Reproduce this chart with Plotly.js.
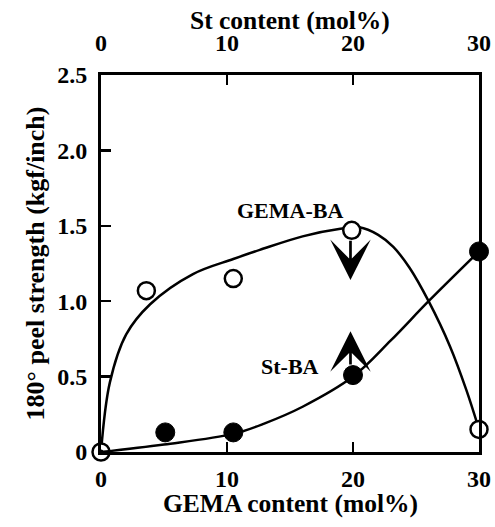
<!DOCTYPE html>
<html><head><meta charset="utf-8">
<script src="https://cdn.plot.ly/plotly-3.0.1.min.js"></script>
<style>html,body{margin:0;padding:0;background:#fff}</style>
</head><body><div id="chart" style="width:495px;height:527px"></div>
<script>
// GEMA-BA (open circles, bottom axis: GEMA content)
const gemaX = [0, 3.6, 10.5, 19.9, 30];
const gemaY = [0, 1.07, 1.15, 1.47, 0.15];
// St-BA (filled circles, top axis: St content)
const stX = [5.1, 10.5, 20, 30];
const stY = [0.13, 0.13, 0.51, 1.33];
const originX = [0];
const originY = [0];
// hand-drawn guide curves
const gemaCurveX = [0, 0.7, 2, 3.9, 7.3, 10.5, 12.6, 16, 19, 20.5, 22, 23.2, 24.5, 26, 27.7, 29, 30];
const gemaCurveY = [0, 0.46, 0.78, 0.98, 1.18, 1.28, 1.34, 1.43, 1.48, 1.49, 1.44, 1.36, 1.22, 1.0, 0.70, 0.41, 0.15];
const stCurveX = [0, 5, 10.5, 13, 16, 20, 23, 26, 30];
const stCurveY = [0, 0.05, 0.12, 0.19, 0.3, 0.5, 0.74, 1.0, 1.33];
// ticks
const xTickVals = [0, 10, 20, 30];
const xTickText = ['0', '10', '20', '30'];
const yTickVals = [0, 0.5, 1.0, 1.5, 2.0, 2.5];
const yTickText = ['0', '0.5', '1.0', '1.5', '2.0', '2.5'];
// labels & arrows
const seriesLabels = ['GEMA-BA', 'St-BA'];
const labelX = [15, 15];
const labelY = [1.60, 0.57];
const arrowX = [19.8, 19.8];
const arrowFrom = [1.41, 0.57];
const arrowTo = [1.14, 0.80];
const topTitle = 'St content (mol%)';
const bottomTitle = 'GEMA content (mol%)';
const yTitle = '180° peel strength (kgf/inch)';

const FONT = 'Liberation Serif';
const f = (s) => ({family: FONT, size: s, color: '#000', weight: 700});

const traces = [
  {x: gemaCurveX, y: gemaCurveY, mode: 'lines', line: {color: '#000', width: 2.5, shape: 'spline', smoothing: 1}, hoverinfo: 'skip', cliponaxis: false},
  {x: stCurveX, y: stCurveY, xaxis: 'x2', mode: 'lines', line: {color: '#000', width: 2.5, shape: 'spline', smoothing: 1}, hoverinfo: 'skip', cliponaxis: false},
  {x: gemaX, y: gemaY, mode: 'markers', marker: {symbol: 'circle', size: 17, color: '#fff', line: {color: '#000', width: 2.5}}, cliponaxis: false},
  {x: stX, y: stY, xaxis: 'x2', mode: 'markers', marker: {symbol: 'circle', size: 19, color: '#000', line: {color: '#000', width: 1}}, cliponaxis: false},
  {x: originX, y: originY, mode: 'markers', marker: {symbol: 'circle', size: 5, color: '#000'}, cliponaxis: false}
];

const annotations = [];
for (let i = 0; i < seriesLabels.length; i++) {
  annotations.push({x: labelX[i], y: labelY[i], xref: 'x', yref: 'y', text: seriesLabels[i], showarrow: false, font: f(22), xanchor: 'center', yanchor: 'middle'});
  annotations.push({x: arrowX[i], y: arrowTo[i], ax: arrowX[i], ay: arrowFrom[i], xref: 'x', yref: 'y', axref: 'x', ayref: 'y', text: '', showarrow: true, arrowhead: 3, arrowwidth: 2.7, arrowsize: 2.5, arrowcolor: '#000', standoff: 0});
}
// axis titles for the top and bottom x axes, set just outside their tick labels
annotations.push({x: 0.5, y: 1.145, xref: 'paper', yref: 'paper', text: topTitle, showarrow: false, font: f(25.5), xanchor: 'center', yanchor: 'middle'});
annotations.push({x: 0.5, y: -0.137, xref: 'paper', yref: 'paper', text: bottomTitle, showarrow: false, font: f(25.5), xanchor: 'center', yanchor: 'middle'});

function axisCommon() {
  return {
    showgrid: false, zeroline: false, showline: true, linecolor: '#000', linewidth: 3,
    ticks: 'inside', ticklen: 10, tickwidth: 2.5, tickcolor: '#000', tickmode: 'array',
    tickfont: {family: FONT, size: 24, color: '#000', weight: 700}
  };
}

const layout = {
  width: 495, height: 527,
  margin: {l: 101, r: 16, t: 75, b: 75},
  paper_bgcolor: '#fff', plot_bgcolor: '#fff',
  font: {family: FONT, size: 24, color: '#000', weight: 700},
  showlegend: false,
  xaxis: Object.assign(axisCommon(), {range: [0, 30], tickvals: xTickVals, ticktext: xTickText,
    ticklabelstandoff: 3}),
  xaxis2: Object.assign(axisCommon(), {range: [0, 30], overlaying: 'x', side: 'top', anchor: 'y', tickvals: xTickVals, ticktext: xTickText,
    ticklabelstandoff: 11}),
  yaxis: Object.assign(axisCommon(), {range: [0, 2.5], tickvals: yTickVals, ticktext: yTickText, mirror: true,
    ticklabelstandoff: 6,
    title: {text: yTitle, font: f(26), standoff: 6}}),
  annotations: annotations
};

Plotly.newPlot('chart', traces, layout, {displayModeBar: false, staticPlot: true});
</script></body></html>
